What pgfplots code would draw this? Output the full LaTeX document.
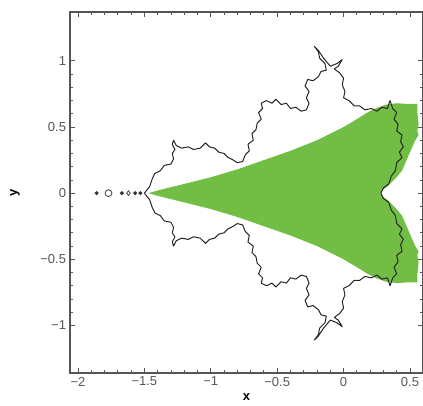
\documentclass[border=0pt]{standalone}
\usepackage{fontspec}
\setmainfont{Liberation Sans}
\usepackage{pgfplots}
\pgfplotsset{compat=1.18}
\definecolor{fillgreen}{RGB}{114,190,68}
\definecolor{framegray}{RGB}{85,85,85}
\begin{document}
\begin{tikzpicture}
\begin{axis}[
  name=ax,
  scale only axis,
  width=353pt, height=361pt,
  xmin=-2.06, xmax=0.598, ymin=-1.36, ymax=1.37,
  xtick={-2,-1.5,-1,-0.5,0,0.5},
  xticklabels={−2,−1.5,−1,−0.5,0,0.5},
  ytick={-1,-0.5,0,0.5,1},
  yticklabels={−1,−0.5,0,0.5,1},
  minor x tick num=4, minor y tick num=4,
  tick align=inside,
  major tick length=5pt, minor tick length=3pt,
  tick style={framegray, line width=0.9pt},
  minor tick style={framegray, line width=0.8pt},
  line width=1.3pt,
  axis line style={framegray, line width=1.3pt},
  ticklabel style={font=\fontsize{13}{13}\selectfont, text=framegray},
  xlabel={x}, ylabel={y},
  label style={font=\fontsize{13}{13}\selectfont\bfseries},
  xlabel style={at={(axis description cs:0.5,-0.068)}, anchor=center},
  ylabel style={at={(axis description cs:-0.156,0.5)}, anchor=center},
]
% green region
\addplot[fill=fillgreen, draw=none] coordinates {
(-1.47,0) (-1.4,0.02) (-1.3,0.045) (-1.2,0.07) (-1.1,0.095) (-1.0,0.12)
(-0.9,0.15) (-0.8,0.18) (-0.7,0.215) (-0.6,0.25) (-0.5,0.285) (-0.4,0.32)
(-0.3,0.36) (-0.2,0.40) (-0.1,0.45) (0.0,0.50) (0.1,0.56) (0.18,0.61)
(0.25,0.645) (0.32,0.67) (0.40,0.68) (0.48,0.675) (0.555,0.675)
(0.555,0.62) (0.565,0.52) (0.555,0.47) (0.565,0.44) (0.54,0.40) (0.50,0.31)
(0.47,0.24) (0.44,0.17) (0.39,0.11) (0.34,0.06) (0.30,0.03) (0.275,0)
(0.30,-0.03) (0.34,-0.06) (0.39,-0.11) (0.44,-0.17) (0.47,-0.24) (0.50,-0.31)
(0.54,-0.40) (0.565,-0.44) (0.555,-0.47) (0.565,-0.52) (0.555,-0.62)
(0.555,-0.675) (0.48,-0.675) (0.40,-0.68) (0.32,-0.67) (0.25,-0.645)
(0.18,-0.61) (0.1,-0.56) (0.0,-0.50) (-0.1,-0.45) (-0.2,-0.40) (-0.3,-0.36)
(-0.4,-0.32) (-0.5,-0.285) (-0.6,-0.25) (-0.7,-0.215) (-0.8,-0.18)
(-0.9,-0.15) (-1.0,-0.12) (-1.1,-0.095) (-1.2,-0.07) (-1.3,-0.045) (-1.4,-0.02)
} -- cycle;
% upper boundary
\addplot[black!85, line width=1pt, line join=round] coordinates {
(-1.50,0.00) (-1.46,0.05) (-1.44,0.11) (-1.42,0.15) (-1.38,0.17) (-1.35,0.21)
(-1.30,0.22) (-1.28,0.26) (-1.29,0.30) (-1.27,0.33) (-1.29,0.37) (-1.28,0.40)
(-1.26,0.36) (-1.22,0.34) (-1.17,0.35) (-1.13,0.33) (-1.08,0.34) (-1.04,0.38)
(-1.01,0.35) (-0.97,0.34) (-0.94,0.31) (-0.90,0.30) (-0.87,0.27) (-0.83,0.25)
(-0.80,0.23) (-0.76,0.24) (-0.74,0.29) (-0.71,0.32) (-0.72,0.37) (-0.68,0.40)
(-0.69,0.45) (-0.66,0.48) (-0.65,0.53) (-0.62,0.56) (-0.64,0.61) (-0.61,0.64)
(-0.62,0.68) (-0.58,0.70) (-0.54,0.68) (-0.51,0.71) (-0.47,0.67) (-0.43,0.68)
(-0.40,0.64) (-0.36,0.65) (-0.32,0.62) (-0.28,0.63) (-0.26,0.68) (-0.28,0.72)
(-0.26,0.77) (-0.29,0.81) (-0.27,0.86) (-0.23,0.85) (-0.19,0.88) (-0.17,0.92)
(-0.13,0.93) (-0.14,0.98) (-0.18,1.02) (-0.19,1.07) (-0.22,1.11) (-0.19,1.08)
(-0.15,1.02) (-0.10,0.96) (-0.05,0.98) (-0.01,1.01) (-0.04,0.96) (-0.07,0.94)
(-0.03,0.91) (0.00,0.87) (-0.01,0.82) (0.01,0.77) (0.00,0.72) (0.04,0.70)
(0.08,0.66) (0.12,0.66) (0.16,0.63) (0.21,0.64) (0.25,0.62) (0.29,0.65)
(0.33,0.64) (0.35,0.70) (0.37,0.64) (0.40,0.61) (0.38,0.56) (0.41,0.52)
(0.40,0.47) (0.44,0.44) (0.43,0.39) (0.45,0.35) (0.42,0.31) (0.44,0.27)
(0.40,0.23) (0.39,0.17) (0.36,0.13) (0.34,0.07) (0.30,0.04) (0.28,0.00)
};
% lower boundary
\addplot[black!85, line width=1pt, line join=round] coordinates {
(-1.50,-0.00) (-1.46,-0.05) (-1.44,-0.11) (-1.42,-0.15) (-1.38,-0.17) (-1.35,-0.21)
(-1.30,-0.22) (-1.28,-0.26) (-1.29,-0.30) (-1.27,-0.33) (-1.29,-0.37) (-1.28,-0.40)
(-1.26,-0.36) (-1.22,-0.34) (-1.17,-0.35) (-1.13,-0.33) (-1.08,-0.34) (-1.04,-0.38)
(-1.01,-0.35) (-0.97,-0.34) (-0.94,-0.31) (-0.90,-0.30) (-0.87,-0.27) (-0.83,-0.25)
(-0.80,-0.23) (-0.76,-0.24) (-0.74,-0.29) (-0.71,-0.32) (-0.72,-0.37) (-0.68,-0.40)
(-0.69,-0.45) (-0.66,-0.48) (-0.65,-0.53) (-0.62,-0.56) (-0.64,-0.61) (-0.61,-0.64)
(-0.62,-0.68) (-0.58,-0.70) (-0.54,-0.68) (-0.51,-0.71) (-0.47,-0.67) (-0.43,-0.68)
(-0.40,-0.64) (-0.36,-0.65) (-0.32,-0.62) (-0.28,-0.63) (-0.26,-0.68) (-0.28,-0.72)
(-0.26,-0.77) (-0.29,-0.81) (-0.27,-0.86) (-0.23,-0.85) (-0.19,-0.88) (-0.17,-0.92)
(-0.13,-0.93) (-0.14,-0.98) (-0.18,-1.02) (-0.19,-1.07) (-0.22,-1.11) (-0.19,-1.08)
(-0.15,-1.02) (-0.10,-0.96) (-0.05,-0.98) (-0.01,-1.01) (-0.04,-0.96) (-0.07,-0.94)
(-0.03,-0.91) (0.00,-0.87) (-0.01,-0.82) (0.01,-0.77) (0.00,-0.72) (0.04,-0.70)
(0.08,-0.66) (0.12,-0.66) (0.16,-0.63) (0.21,-0.64) (0.25,-0.62) (0.29,-0.65)
(0.33,-0.64) (0.35,-0.70) (0.37,-0.64) (0.40,-0.61) (0.38,-0.56) (0.41,-0.52)
(0.40,-0.47) (0.44,-0.44) (0.43,-0.39) (0.45,-0.35) (0.42,-0.31) (0.44,-0.27)
(0.40,-0.23) (0.39,-0.17) (0.36,-0.13) (0.34,-0.07) (0.30,-0.04) (0.28,-0.00)
};
% small components on the real axis
\addplot[only marks, mark=*, mark size=1.2pt, black!80] coordinates {
(-1.86,0) (-1.67,0) (-1.57,0) (-1.53,0)
};
\addplot[only marks, mark=o, mark size=3.4pt, black!70, line width=0.9pt,
  mark options={fill=fillgreen!60}] coordinates {(-1.77,0)};
\addplot[only marks, mark=diamond, mark size=2.4pt, black!70, line width=0.8pt]
  coordinates {(-1.62,0)};
\end{axis}
\pgfresetboundingbox
\path[use as bounding box] ([xshift=-70pt,yshift=-33pt]ax.south west)
  rectangle ([yshift=12pt]ax.north east);
\end{tikzpicture}
\end{document}
